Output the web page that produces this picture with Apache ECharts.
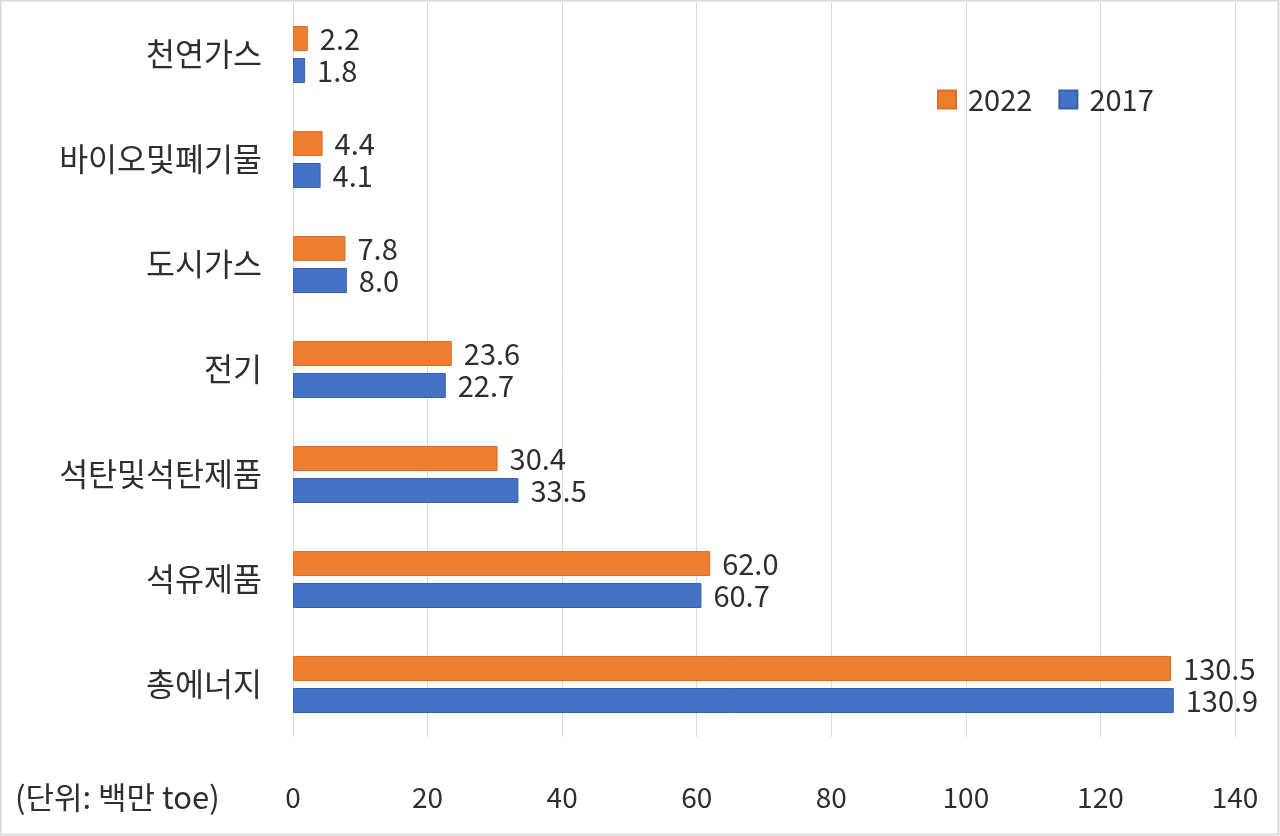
<!DOCTYPE html>
<html><head><meta charset="utf-8">
<script src="https://cdn.jsdelivr.net/npm/echarts@6/dist/echarts.min.js"></script>
<style>html,body{margin:0;padding:0;background:#fff}#c{width:1280px;height:836px}</style>
</head><body><div id="c"></div>
<script>
const categories = ['총에너지','석유제품','석탄및석탄제품','전기','도시가스','바이오및폐기물','천연가스'];
const values2017 = [130.9, 60.7, 33.5, 22.7, 8.0, 4.1, 1.8];
const values2022 = [130.5, 62.0, 30.4, 23.6, 7.8, 4.4, 2.2];
const xTicks = [0, 20, 40, 60, 80, 100, 120, 140];
const unitLabel = '(단위: 백만 toe)';

const FONT = '"Noto Sans CJK KR", "Noto Sans", sans-serif';
const TXT = '#2e2e2e';
const chart = echarts.init(document.getElementById('c'));
const lbl = {show:true, position:'right', distance:12, color:TXT, fontSize:29, fontFamily:FONT, formatter:p=>p.value.toFixed(1)};
chart.setOption({
  animation:false,
  grid:{left:293, right:45, top:2, bottom:99},
  legend:{data:['2022','2017'], left:932, top:80, itemWidth:18, itemHeight:18, itemGap:26,
    textStyle:{fontSize:29, color:TXT, fontFamily:FONT, padding:[0,0,0,7]}, icon:'rect'},
  xAxis:{type:'value', min:xTicks[0], max:xTicks[xTicks.length-1], interval:20,
    axisLine:{show:false}, axisTick:{show:false},
    splitLine:{lineStyle:{color:'#d9d9d9', width:1}},
    axisLabel:{fontSize:28, color:TXT, fontFamily:FONT, margin:46}},
  yAxis:{type:'category', data:categories,
    axisLine:{show:false}, axisTick:{show:false},
    axisLabel:{fontSize:31.5, color:TXT, fontFamily:FONT, margin:31}},
  series:[
    {name:'2022', type:'bar', data:values2022, barWidth:25, barGap:'28%',
      itemStyle:{color:'#ED7D31', borderColor:'#DD6E22', borderWidth:1}, label:lbl},
    {name:'2017', type:'bar', data:values2017, barWidth:25,
      itemStyle:{color:'#4472C4', borderColor:'#3461B0', borderWidth:1}, label:lbl}
  ],
  graphic:[
    {type:'rect', shape:{x:0.5, y:0.5, width:1278, height:834}, style:{fill:'none', stroke:'#d9d9d9', lineWidth:2}, silent:true},
    {type:'text', left:15, top:782, style:{text:unitLabel, fontSize:31, fill:TXT, fontFamily:FONT}}
  ]
});
</script></body></html>
